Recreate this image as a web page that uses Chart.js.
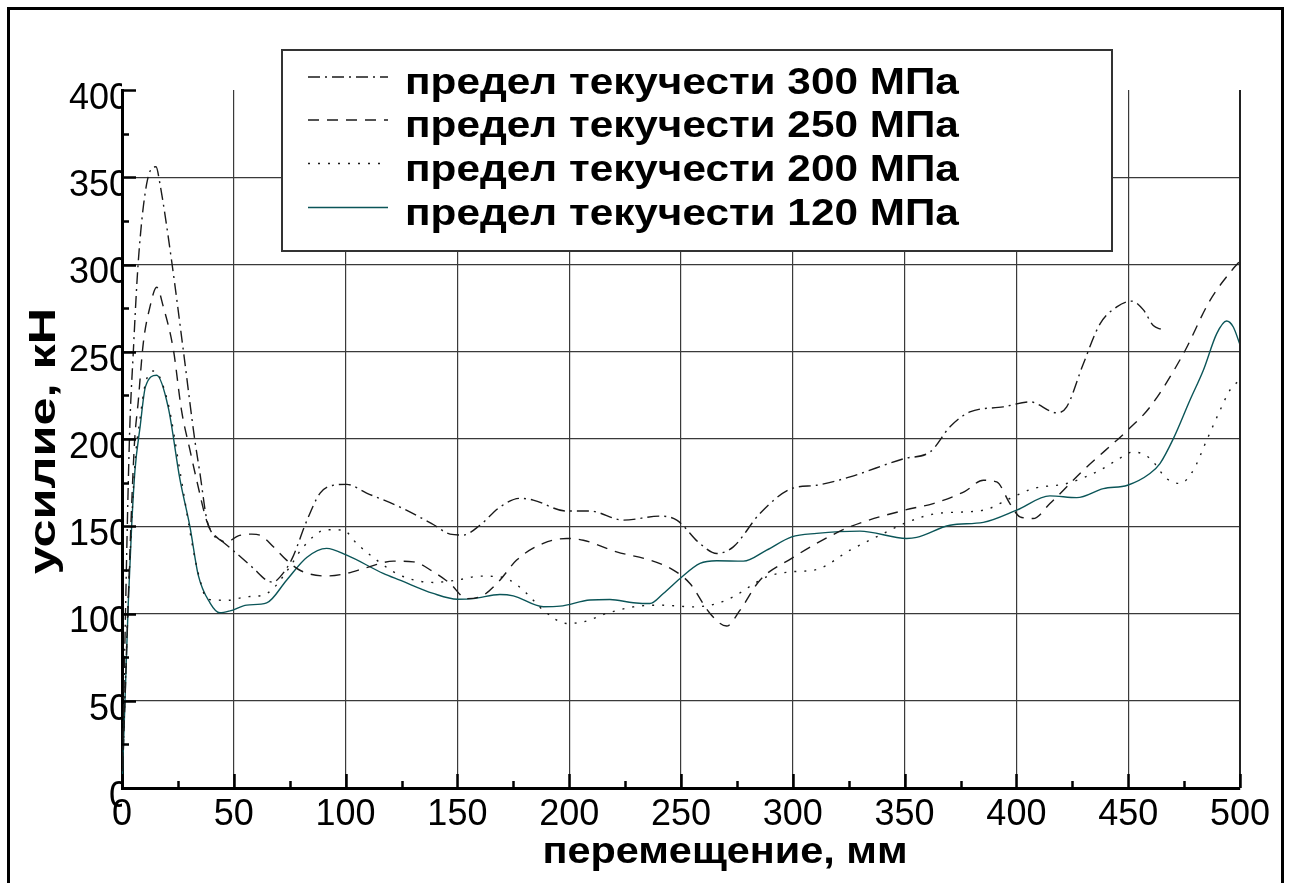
<!DOCTYPE html>
<html>
<head>
<meta charset="utf-8">
<script src="https://cdn.jsdelivr.net/npm/chart.js@4.4.1/dist/chart.umd.min.js"></script>
<style>
  html, body { margin: 0; padding: 0; background: #fff; }
  #wrap { width: 1291px; height: 883px; }
</style>
</head>
<body>
<div id="wrap"><canvas id="c" width="1291" height="883"></canvas></div>
<script>
// Axis ranges and tick steps
const xRange = [0, 500];
const yRange = [0, 400];
const xStep = 50;
const yStep = 50;

const xTitle = 'перемещение, мм';
const yTitle = 'усилие, кН';

const seriesLabels = [
  'предел текучести 300 МПа',
  'предел текучести 250 МПа',
  'предел текучести 200 МПа',
  'предел текучести 120 МПа'
];

// displacement (mm) / force (kN) for each yield strength
const x300 = [0, 3.3, 5.1, 7.3, 11, 15.2, 17, 22.2, 27.4, 32.6, 34.9, 37.9, 40.8, 43.1, 49.8, 58.7, 64.7, 67.5, 70.7, 75.9, 82.6, 88.6, 94.5, 100.5, 109.4, 124.3, 139.2, 146.7, 152.6, 160.1, 169, 178, 183.9, 198.8, 209.3, 224.2, 240.6, 248.1, 258.5, 266, 273.4, 285.3, 299.5, 310.7, 325.6, 349.9, 361.4, 370.3, 379.2, 394.1, 406.1, 418, 422.5, 429.9, 437.4, 444.9, 451.6, 456.8, 461.2, 465];
const y300 = [0, 199, 251, 302, 346, 356, 346, 302, 251, 199, 180, 154, 145, 143, 136, 126, 119, 118, 121, 131, 153, 169, 173.5, 174, 169, 161, 151, 145.5, 145, 150.6, 161, 166, 165, 158.7, 158.7, 153.5, 155.8, 153.5, 140, 134.4, 138.2, 157.3, 171.6, 173.5, 178.3, 188.8, 192.6, 207, 215.5, 218.4, 221.3, 215, 218.4, 243, 266, 275.7, 279, 274, 265, 262.7];

const x250 = [0, 5.4, 7.3, 9.5, 12.5, 15.5, 18.5, 23, 26.6, 30.4, 33.4, 37.9, 40.8, 46.8, 52, 58, 61.7, 67.7, 73.6, 80, 91.5, 100.5, 109.4, 121.4, 130.3, 139.2, 146.7, 154.2, 161.6, 169, 176.5, 188.4, 198.9, 206.3, 221.2, 236.1, 246.6, 254, 263, 270.4, 276.4, 285.3, 299.5, 310.7, 325.6, 349.9, 362.8, 377, 385.2, 391.2, 397.1, 401.6, 407.5, 415, 429.9, 449.7, 459.8, 474.7, 486.6, 497, 500];
const y250 = [0, 193.6, 222, 254.7, 275.7, 287, 275.7, 251, 216.5, 193.6, 176.4, 153, 145.8, 141, 144.5, 145.5, 144.9, 138.2, 130.6, 124.5, 121.5, 123, 126.3, 130, 129.6, 123.9, 117.2, 108.5, 110.5, 119.1, 130.6, 140.2, 143, 142, 135.3, 130.6, 124.9, 117.2, 100, 92.8, 101.9, 119.1, 131.6, 140.2, 149.7, 159.2, 163, 170, 176.4, 175.4, 163, 155.4, 154.4, 163, 182.1, 205, 218.4, 248.9, 279.5, 297.7, 302];

const x200 = [0, 2.8, 5.8, 8, 10.5, 14.3, 20.5, 26, 31.9, 34.9, 37.9, 42.3, 46.8, 55.8, 63.2, 67.7, 75.1, 81.1, 91.5, 99, 104.9, 113.9, 124.3, 139.2, 149.6, 160.1, 169, 173.5, 181, 188.4, 198.9, 206.3, 216.7, 228.7, 240.6, 255.5, 266, 273.4, 288.3, 299.5, 310.7, 325.6, 340.5, 349.9, 364.4, 385.2, 397.1, 407.5, 422.5, 437.4, 444.9, 452.4, 459.8, 467.2, 473.2, 479.1, 485.1, 491.1, 495.5, 500];
const y200 = [0, 108, 186, 211, 232, 239, 221, 181, 136.3, 119.1, 108.5, 107.7, 107.5, 109.6, 110.5, 114.4, 126.8, 138.2, 148, 147.8, 140.2, 130.6, 122, 117.8, 119.1, 121.4, 121, 119.1, 111.5, 101.9, 94.3, 95.2, 100, 103.8, 104.8, 103.8, 105.7, 109.6, 121, 123.9, 125.2, 136.3, 145.8, 151.6, 157.3, 159.2, 165.9, 171.6, 174.5, 182.1, 187.9, 192.6, 188.8, 177.3, 174.5, 182.1, 199.3, 216.5, 228, 234];

const x120 = [0, 1.3, 2.8, 4.3, 5.8, 8.1, 10.5, 15.5, 20.7, 25.9, 30.4, 34.1, 39.4, 43.8, 48.3, 55.8, 64.7, 73.6, 82.6, 91.5, 100.5, 116.8, 124.3, 139.2, 150, 157.1, 169, 175, 188.4, 195.9, 209.3, 218.2, 228.7, 236.1, 242.1, 249.6, 258.5, 266, 277.9, 288.3, 299.5, 310.7, 330, 350.9, 355.4, 370.3, 385.2, 400.1, 415, 427, 438.9, 449.7, 459.7, 464.2, 470.2, 477.6, 483.6, 489.6, 494, 497, 500];
const y120 = [0, 48.5, 105.8, 149.7, 182, 207, 230, 236.5, 218, 177, 149.7, 122, 106, 100.4, 101.5, 104.8, 106.1, 119.1, 132.1, 137.3, 133.4, 123, 119.1, 111.5, 108.2, 108.5, 110.9, 110.1, 103.9, 104.2, 107.7, 108, 106.2, 105.7, 111.5, 120.1, 128.7, 130.2, 130, 136.3, 143.9, 145.9, 147.2, 143, 143.6, 150.6, 152.2, 159.2, 167.4, 166.4, 171.6, 173.5, 180.2, 185.9, 200.2, 222.2, 239.4, 260.4, 267.6, 264.2, 254];

const toPoints = (xs, ys) => xs.map((x, i) => ({ x, y: ys[i] }));

const FONT = "'Liberation Sans', Arial, Helvetica, sans-serif";

function lineStyle(color, dash) {
  return {
    borderColor: color,
    borderWidth: 1.4,
    borderDash: dash,
    pointRadius: 0,
    fill: false,
    cubicInterpolationMode: 'monotone'
  };
}

const datasets = [
  Object.assign({ label: seriesLabels[0], data: toPoints(x300, y300) }, lineStyle('#1a1a1a', [12, 5, 2, 5])),
  Object.assign({ label: seriesLabels[1], data: toPoints(x250, y250) }, lineStyle('#1a1a1a', [11, 8])),
  Object.assign({ label: seriesLabels[2], data: toPoints(x200, y200) }, lineStyle('#1a1a1a', [2, 8])),
  Object.assign({ label: seriesLabels[3], data: toPoints(x120, y120) }, lineStyle('#0b5558', []))
];

// bold text widened along its baseline
function wideText(ctx, text, x, y, sx, align) {
  ctx.save();
  ctx.translate(x, y);
  ctx.scale(sx, 1);
  ctx.textAlign = align;
  ctx.fillText(text, 0, 0);
  ctx.restore();
}

// outer frame, inner tick marks, right border, legend, axis titles
const decorations = {
  id: 'decorations',
  beforeDraw(chart) {
    const ctx = chart.ctx;
    ctx.save();
    ctx.fillStyle = '#fff';
    ctx.fillRect(0, 0, chart.width, chart.height);
    ctx.restore();
  },
  afterDatasetsDraw(chart) {
    const { ctx, chartArea: a, scales: { x, y } } = chart;
    ctx.save();
    // right border of the plot
    ctx.strokeStyle = '#222';
    ctx.lineWidth = 2;
    ctx.beginPath();
    ctx.moveTo(x.getPixelForValue(xRange[1]), a.top);
    ctx.lineTo(x.getPixelForValue(xRange[1]), a.bottom);
    ctx.stroke();
    // inner ticks
    ctx.strokeStyle = '#000';
    ctx.lineWidth = 2.5;
    for (let v = yRange[0]; v <= yRange[1]; v += yStep / 2) {
      const p = Math.round(y.getPixelForValue(v)) + 0.5;
      const len = (v % yStep === 0) ? 14 : 7;
      ctx.beginPath();
      ctx.moveTo(a.left, p);
      ctx.lineTo(a.left + len, p);
      ctx.stroke();
    }
    for (let v = xRange[0]; v <= xRange[1]; v += xStep / 2) {
      const p = Math.round(x.getPixelForValue(v)) + 0.5;
      const len = (v % xStep === 0) ? 14 : 7;
      ctx.beginPath();
      ctx.moveTo(p, a.bottom);
      ctx.lineTo(p, a.bottom - len);
      ctx.stroke();
    }
    // legend
    const box = { l: 282, t: 50, r: 1112, b: 251 };
    ctx.fillStyle = '#fff';
    ctx.fillRect(box.l, box.t, box.r - box.l, box.b - box.t);
    ctx.strokeStyle = '#333';
    ctx.lineWidth = 2;
    ctx.strokeRect(box.l, box.t, box.r - box.l, box.b - box.t);
    const rows = [77, 120, 163.5, 207.5];
    ctx.font = 'bold 36px ' + FONT;
    ctx.textBaseline = 'alphabetic';
    chart.data.datasets.forEach((ds, i) => {
      ctx.save();
      ctx.strokeStyle = ds.borderColor;
      ctx.lineWidth = 1.4;
      ctx.setLineDash(ds.borderDash || []);
      ctx.beginPath();
      ctx.moveTo(308, rows[i]);
      ctx.lineTo(388, rows[i]);
      ctx.stroke();
      ctx.restore();
      ctx.fillStyle = '#000';
      wideText(ctx, ds.label, 405, rows[i] + 17, 1.175, 'left');
    });
    // axis titles
    ctx.fillStyle = '#000';
    ctx.font = 'bold 36px ' + FONT;
    ctx.textBaseline = 'middle';
    wideText(ctx, xTitle, 725, 853, 1.15, 'center');
    ctx.save();
    ctx.translate(45, 441);
    ctx.rotate(-Math.PI / 2);
    wideText(ctx, yTitle, 0, 0, 1.4, 'center');
    ctx.restore();
    ctx.restore();
    // outer frame
    ctx.save();
    ctx.strokeStyle = '#000';
    ctx.lineWidth = 3;
    ctx.strokeRect(8.5, 8.5, 1274, 900);
    ctx.restore();
  }
};

const hideEnds = (lo, hi) => (c) => (c.tick && (c.tick.value === lo || c.tick.value === hi)) ? 'rgba(0,0,0,0)' : '#3a3a3a';

new Chart(document.getElementById('c'), {
  type: 'line',
  data: { datasets },
  options: {
    responsive: false,
    animation: false,
    devicePixelRatio: 1,
    layout: { padding: { left: 0, right: 51, top: 90, bottom: 0 } },
    plugins: { legend: { display: false }, tooltip: { enabled: false } },
    scales: {
      x: {
        type: 'linear',
        min: xRange[0],
        max: xRange[1],
        afterFit(s) { s.height = 95; },
        ticks: {
          stepSize: xStep,
          color: '#000',
          font: { family: FONT, size: 36 },
          padding: 5,
          maxRotation: 0,
          autoSkip: false
        },
        grid: { color: hideEnds(xRange[0], xRange[1]), lineWidth: 1.2, drawTicks: false },
        border: { display: true, color: '#000', width: 3 }
      },
      y: {
        type: 'linear',
        min: yRange[0],
        max: yRange[1],
        afterFit(s) { s.width = 122; },
        ticks: {
          stepSize: yStep,
          color: '#000',
          font: { family: FONT, size: 36 },
          padding: -7,
          labelOffset: 9
        },
        grid: { color: hideEnds(yRange[0], yRange[1]), lineWidth: 1.2, drawTicks: false },
        border: { display: true, color: '#000', width: 3 }
      }
    }
  },
  plugins: [decorations]
});
</script>
</body>
</html>
